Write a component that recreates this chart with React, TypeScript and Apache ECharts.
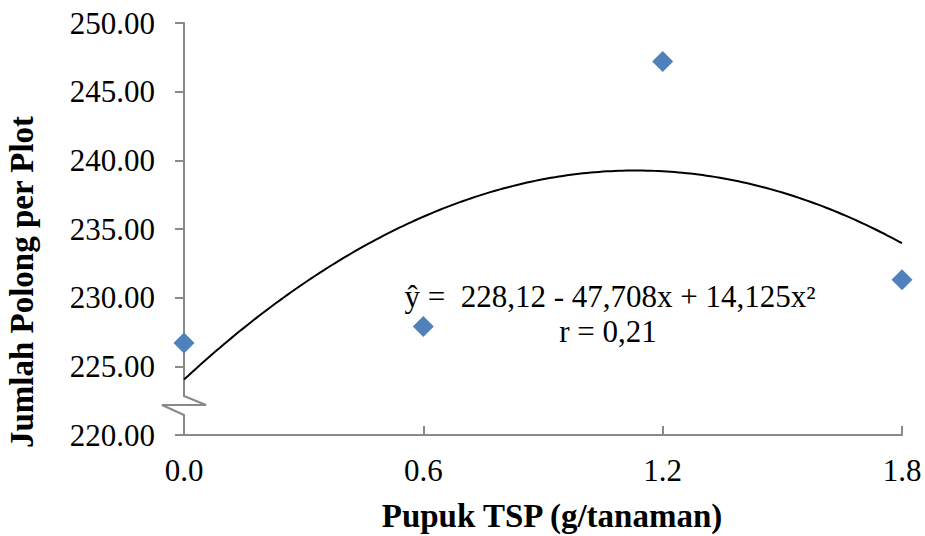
import React, { useEffect, useRef } from "react";
import * as echarts from "echarts";

// Dosis pupuk TSP (g/tanaman) dan jumlah polong per plot
const doses = [0.0, 0.6, 1.2, 1.8];
const pods = [226.7, 227.9, 247.2, 231.3];

const xTicks = [0.0, 0.6, 1.2, 1.8];
const yMin = 220;
const yMax = 250;
const yStep = 5;

const equationLine1 = "ŷ =  228,12 - 47,708x + 14,125x²";
const equationLine2 = "r = 0,21";
const xTitle = "Pupuk TSP (g/tanaman)";
const yTitle = "Jumlah Polong per Plot";

// Least-squares quadratic fit (polynomial trendline of order 2)
function fitQuadratic(xs: number[], ys: number[]): [number, number, number] {
  const n = xs.length;
  let s1 = 0, s2 = 0, s3 = 0, s4 = 0, t0 = 0, t1 = 0, t2 = 0;
  for (let i = 0; i < n; i++) {
    const x = xs[i];
    const y = ys[i];
    s1 += x; s2 += x * x; s3 += x * x * x; s4 += x * x * x * x;
    t0 += y; t1 += x * y; t2 += x * x * y;
  }
  const m = [
    [n, s1, s2, t0],
    [s1, s2, s3, t1],
    [s2, s3, s4, t2],
  ];
  for (let c = 0; c < 3; c++) {
    for (let r = c + 1; r < 3; r++) {
      const f = m[r][c] / m[c][c];
      for (let k = c; k < 4; k++) m[r][k] -= f * m[c][k];
    }
  }
  const coef = [0, 0, 0];
  for (let r = 2; r >= 0; r--) {
    let s = m[r][3];
    for (let k = r + 1; k < 3; k++) s -= m[r][k] * coef[k];
    coef[r] = s / m[r][r];
  }
  return [coef[0], coef[1], coef[2]];
}

const FONT = "'Liberation Serif', 'Times New Roman', serif";
const AXIS_GRAY = "#898989";

export default function App() {
  const ref = useRef<HTMLDivElement>(null);

  useEffect(() => {
    if (!ref.current) return;
    const chart = echarts.init(ref.current, undefined, { renderer: "svg" });

    const [a, b, c] = fitQuadratic(doses, pods);
    const trend: number[][] = [];
    const x0 = xTicks[0];
    const x1 = xTicks[xTicks.length - 1];
    const steps = 180;
    for (let i = 0; i <= steps; i++) {
      const x = x0 + ((x1 - x0) * i) / steps;
      trend.push([x, a + b * x + c * x * x]);
    }

    chart.setOption({
      animation: false,
      backgroundColor: "#ffffff",
      grid: { left: 184, right: 23, top: 23, bottom: 101, containLabel: false },
      xAxis: {
        type: "value",
        min: x0,
        max: x1,
        interval: 0.6,
        axisLine: { show: true, lineStyle: { color: AXIS_GRAY, width: 2 } },
        axisTick: { show: true, inside: true, length: 9, lineStyle: { color: AXIS_GRAY, width: 2 } },
        axisLabel: {
          margin: 20,
          fontFamily: FONT,
          fontSize: 31,
          color: "#000",
          formatter: (v: number) => v.toFixed(1),
        },
        splitLine: { show: false },
      },
      yAxis: {
        type: "value",
        min: yMin,
        max: yMax,
        interval: yStep,
        axisLine: { show: true, lineStyle: { color: AXIS_GRAY, width: 2 } },
        axisTick: { show: true, inside: false, length: 9, lineStyle: { color: AXIS_GRAY, width: 2 } },
        axisLabel: {
          margin: 29,
          fontFamily: FONT,
          fontSize: 31,
          color: "#000",
          formatter: (v: number) => v.toFixed(2),
        },
        splitLine: { show: false },
      },
      series: [
        {
          type: "line",
          data: trend,
          showSymbol: false,
          symbol: "none",
          smooth: false,
          lineStyle: { color: "#000", width: 2 },
          z: 2,
          silent: true,
        },
        {
          type: "scatter",
          data: doses.map((d, i) => [d, pods[i]]),
          symbol: "diamond",
          symbolSize: 21,
          itemStyle: { color: "#4F81BD", opacity: 1 },
          clip: false,
          z: 3,
        },
      ],
      graphic: [
        // axis break mark on the y axis
        {
          type: "rect",
          shape: { x: 150, y: 394, width: 60, height: 23 },
          style: { fill: "#ffffff" },
          z: 100,
        },
        {
          type: "polyline",
          shape: {
            points: [
              [184, 393],
              [184, 396],
              [206, 405],
              [162, 405],
              [184, 415],
              [184, 418],
            ],
          },
          style: { stroke: AXIS_GRAY, lineWidth: 2, fill: "none" },
          z: 101,
        },
        {
          type: "text",
          x: 610,
          y: 296,
          style: {
            text: equationLine1,
            font: `31px ${FONT}`,
            fill: "#000",
            align: "center",
            verticalAlign: "middle",
          },
          z: 50,
        },
        {
          type: "text",
          x: 608,
          y: 331,
          style: {
            text: equationLine2,
            font: `31px ${FONT}`,
            fill: "#000",
            align: "center",
            verticalAlign: "middle",
          },
          z: 50,
        },
        {
          type: "text",
          x: 552,
          y: 516,
          style: {
            text: xTitle,
            font: `bold 33px ${FONT}`,
            fill: "#000",
            align: "center",
            verticalAlign: "middle",
          },
        },
        {
          type: "text",
          x: 22,
          y: 282,
          rotation: Math.PI / 2,
          style: {
            text: yTitle,
            font: `bold 33px ${FONT}`,
            fill: "#000",
            align: "center",
            verticalAlign: "middle",
          },
        },
      ],
    });

    return () => {
      chart.dispose();
    };
  }, []);

  return (
    <div
      ref={ref}
      style={{ position: "absolute", left: 0, top: 0, width: 925, height: 536, overflow: "hidden" }}
    />
  );
}
